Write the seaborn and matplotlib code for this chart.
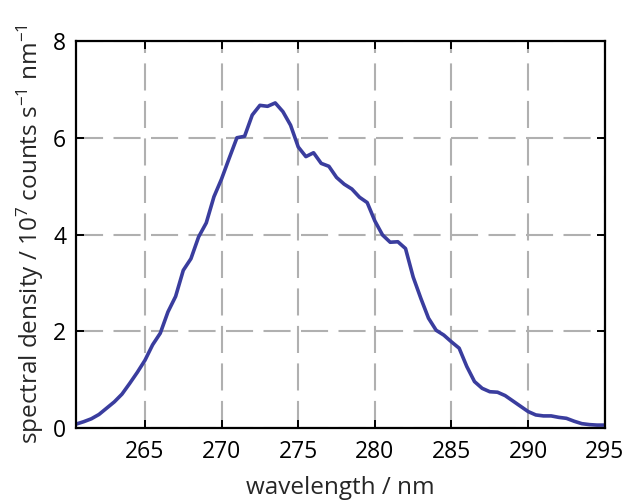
import matplotlib
matplotlib.use("Agg")
import matplotlib.pyplot as plt
import seaborn as sns
import pandas as pd

# wavelength grid (nm) and spectral density (10^7 counts s^-1 nm^-1)
wavelength = [260.5 + 0.5 * i for i in range(70)]
density = [
    0.08, 0.13, 0.19, 0.28, 0.41, 0.54, 0.70, 0.92, 1.15, 1.40,
    1.72, 1.96, 2.40, 2.72, 3.26, 3.50, 3.95, 4.24, 4.78, 5.15,
    5.58, 6.00, 6.03, 6.47, 6.67, 6.65, 6.72, 6.54, 6.26, 5.81,
    5.61, 5.69, 5.47, 5.41, 5.18, 5.04, 4.94, 4.77, 4.66, 4.28,
    3.99, 3.84, 3.85, 3.71, 3.12, 2.68, 2.27, 2.02, 1.92, 1.78,
    1.65, 1.27, 0.96, 0.82, 0.75, 0.74, 0.67, 0.56, 0.45, 0.34,
    0.27, 0.25, 0.25, 0.22, 0.20, 0.14, 0.09, 0.07, 0.06, 0.06,
]
x_ticks = [265, 270, 275, 280, 285, 290, 295]
y_ticks = [0, 2, 4, 6, 8]

df = pd.DataFrame({"wavelength": wavelength, "density": density})

sns.set_theme(style="ticks")
plt.rcParams["font.family"] = ["Open Sans", "DejaVu Sans"]
plt.rcParams["mathtext.default"] = "regular"

fig = plt.figure(figsize=(6.28, 5.0), dpi=100)
ax = fig.add_axes([0.121, 0.144, 0.842, 0.774])

sns.lineplot(data=df, x="wavelength", y="density", ax=ax,
             color="#3a3d9e", linewidth=2.6)

ax.set_xlim(260.5, 295)
ax.set_ylim(0, 8)
ax.set_xticks(x_ticks)
ax.set_yticks(y_ticks)
ax.grid(True, color="#b0b0b0", linestyle=(0, (13, 5)), linewidth=1.5)
ax.set_axisbelow(True)

for s in ax.spines.values():
    s.set_visible(True)
    s.set_linewidth(1.6)
    s.set_color("black")

ax.tick_params(direction="in", length=6, width=1.4, top=True, right=True,
               labelsize=16.5, colors="black")
ax.tick_params(axis="x", pad=9)
ax.tick_params(axis="y", pad=7)
ax.set_xlabel("wavelength / nm", fontsize=17.5, labelpad=8)
ax.set_ylabel("spectral density / 10$^{7}$ counts s$^{\u22121}$ nm$^{\u22121}$",
              fontsize=17.5, labelpad=5)

fig.savefig("out.png", dpi=100)
